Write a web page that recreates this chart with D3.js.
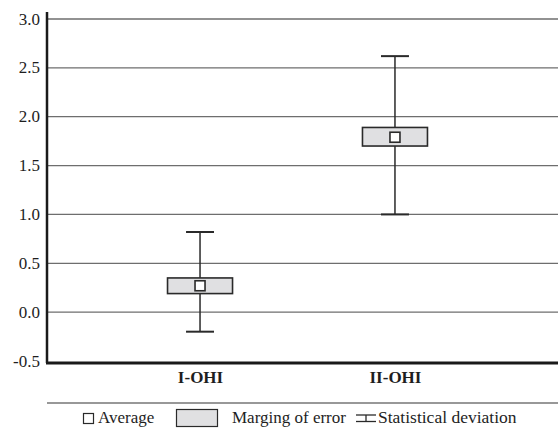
<!DOCTYPE html>
<html>
<head>
<meta charset="utf-8">
<script src="https://cdn.jsdelivr.net/npm/d3@7"></script>
<style>
  html, body { margin: 0; padding: 0; background: #fff; }
  svg { display: block; }
  svg text { font-family: "Liberation Serif", "Times New Roman", Times, serif; fill: #1e1e1e; }
</style>
</head>
<body>
<svg id="chart" width="558" height="428"></svg>
<script>
// ---- data ----
const categories = ["I-OHI", "II-OHI"];
const means      = [0.27, 1.79];
const boxLow     = [0.19, 1.70];
const boxHigh    = [0.35, 1.89];
const whiskLow   = [-0.20, 1.00];
const whiskHigh  = [0.82, 2.62];
const yTicks     = [-0.5, 0.0, 0.5, 1.0, 1.5, 2.0, 2.5, 3.0];
const legendLabels = ["Average", "Marging of error", "Statistical deviation"];

// ---- layout ----
const svg = d3.select("#chart");
const mLeft = 47, mRight = 558, mTop = 19, mBottom = 361;

const y = d3.scaleLinear().domain([-0.5, 3.0]).range([mBottom, mTop]);
const x = d3.scalePoint().domain(categories).range([mLeft, 548]).padding(0.785);

// gridlines
svg.append("g").selectAll("line")
  .data(yTicks.filter(t => t > -0.5))
  .join("line")
  .attr("x1", mLeft).attr("x2", mRight)
  .attr("y1", d => y(d)).attr("y2", d => y(d))
  .attr("stroke", "#6e6e6e").attr("stroke-width", 1.3);

// y axis with labels
const fmt = d3.format(".1f");
const yAxis = d3.axisLeft(y).tickValues(yTicks).tickSize(0).tickPadding(7)
  .tickFormat(d => d < 0 ? "-" + fmt(-d) : fmt(d));
const gy = svg.append("g").attr("transform", `translate(${mLeft},0)`).call(yAxis);
gy.attr("font-family", null).attr("font-size", null);
gy.select(".domain").remove();
gy.selectAll("text").style("font-size", "17px").attr("dy", "0.3em");

// axis lines
svg.append("line").attr("x1", mLeft).attr("x2", mLeft).attr("y1", 12).attr("y2", mBottom + 2)
  .attr("stroke", "#1a1a1a").attr("stroke-width", 2.5);
svg.append("line").attr("x1", mLeft - 1).attr("x2", mRight).attr("y1", mBottom + 2).attr("y2", mBottom + 2)
  .attr("stroke", "#1a1a1a").attr("stroke-width", 3);

// x axis category labels
const xAxis = d3.axisBottom(x).tickSize(0).tickPadding(0);
const gx = svg.append("g").attr("transform", `translate(0,383)`).call(xAxis);
gx.attr("font-family", null).attr("font-size", null);
gx.select(".domain").remove();
gx.selectAll("text").attr("y", 0).attr("dy", 0)
  .style("font-size", "17px").style("font-weight", "bold");

// marks
const boxW = 65, capW = 28, meanS = 10;
const idx = d3.range(categories.length);
const g = svg.append("g");

// whisker stems
g.selectAll(".stem").data(idx).join("line")
  .attr("x1", i => x(categories[i])).attr("x2", i => x(categories[i]))
  .attr("y1", i => y(whiskHigh[i])).attr("y2", i => y(whiskLow[i]))
  .attr("stroke", "#2a2a2a").attr("stroke-width", 1.5);
// caps
["high", "low"].forEach(k => {
  g.selectAll(".cap-" + k).data(idx).join("line")
    .attr("x1", i => x(categories[i]) - capW / 2).attr("x2", i => x(categories[i]) + capW / 2)
    .attr("y1", i => y(k === "high" ? whiskHigh[i] : whiskLow[i]))
    .attr("y2", i => y(k === "high" ? whiskHigh[i] : whiskLow[i]))
    .attr("stroke", "#2a2a2a").attr("stroke-width", 2);
});
// boxes
g.selectAll(".box").data(idx).join("rect")
  .attr("x", i => x(categories[i]) - boxW / 2)
  .attr("width", boxW)
  .attr("y", i => y(boxHigh[i]))
  .attr("height", i => y(boxLow[i]) - y(boxHigh[i]))
  .attr("fill", "#e0e0e2").attr("stroke", "#2a2a2a").attr("stroke-width", 1.6);
// means
g.selectAll(".mean").data(idx).join("rect")
  .attr("x", i => x(categories[i]) - meanS / 2)
  .attr("y", i => y(means[i]) - meanS / 2)
  .attr("width", meanS).attr("height", meanS)
  .attr("fill", "#fff").attr("stroke", "#2a2a2a").attr("stroke-width", 1.6);

// legend
svg.append("line").attr("x1", mLeft).attr("x2", mRight).attr("y1", 403).attr("y2", 403)
  .attr("stroke", "#333").attr("stroke-width", 1.2);
const ly = 423;
const leg = svg.append("g");
leg.append("rect").attr("x", 83.5).attr("y", 413.5).attr("width", 10).attr("height", 10)
  .attr("fill", "#fff").attr("stroke", "#2a2a2a").attr("stroke-width", 1.2);
leg.append("text").attr("x", 98).attr("y", ly).style("font-size", "17px").text(legendLabels[0]);
leg.append("rect").attr("x", 176.5).attr("y", 409.5).attr("width", 41).attr("height", 17)
  .attr("fill", "#e0e0e2").attr("stroke", "#2a2a2a").attr("stroke-width", 1.2);
leg.append("text").attr("x", 232).attr("y", ly).style("font-size", "17px").text(legendLabels[1]);
const ix = 356, iw = 20;
leg.append("line").attr("x1", ix).attr("x2", ix + iw).attr("y1", 415).attr("y2", 415).attr("stroke", "#2a2a2a").attr("stroke-width", 1.3);
leg.append("line").attr("x1", ix).attr("x2", ix + iw).attr("y1", 421.5).attr("y2", 421.5).attr("stroke", "#2a2a2a").attr("stroke-width", 1.3);
leg.append("line").attr("x1", ix + iw / 2).attr("x2", ix + iw / 2).attr("y1", 415).attr("y2", 421.5).attr("stroke", "#2a2a2a").attr("stroke-width", 1.3);
leg.append("text").attr("x", 378).attr("y", ly).style("font-size", "17.5px").text(legendLabels[2]);
</script>
</body>
</html>
